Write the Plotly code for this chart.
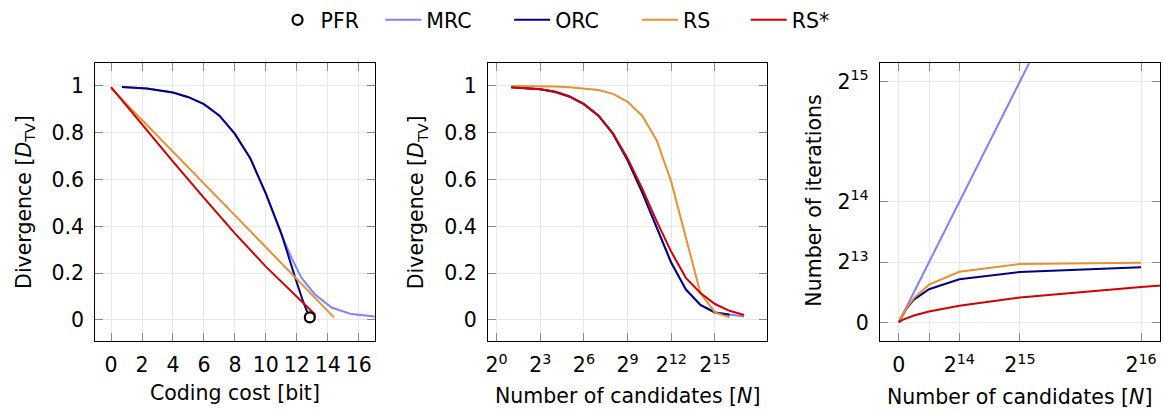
import plotly.graph_objects as go

# ---------------- data ----------------
# Plot 1: divergence vs coding cost [bit]
mrc_cost = [0.7, 2.3, 4.0, 5.0, 6.0, 7.0, 8.0, 9.0, 10.0, 11.01, 11.66, 12.3, 13.16, 14.24, 15.53, 17.1]
mrc_div1 = [0.996, 0.989, 0.972, 0.952, 0.922, 0.873, 0.795, 0.69, 0.54, 0.364, 0.265, 0.18, 0.11, 0.053, 0.025, 0.014]
orc_cost = [0.7, 2.3, 4.0, 5.0, 6.0, 7.0, 8.0, 9.0, 10.0, 11.0, 11.9, 12.4, 12.73]
orc_div1 = [0.996, 0.989, 0.972, 0.952, 0.922, 0.873, 0.795, 0.69, 0.54, 0.37, 0.18, 0.08, 0.025]
rs_cost = [0.0, 4.3, 8.43, 14.4]
rs_div1 = [0.99, 0.70, 0.418, 0.011]
rss_cost = [0.0, 2.0, 4.0, 6.0, 8.0, 10.0, 12.0, 13.2]
rss_div1 = [0.995, 0.835, 0.677, 0.522, 0.37, 0.228, 0.097, 0.022]
pfr_cost = [12.84]
pfr_div1 = [0.011]

# Plot 2 / 3: number of candidates N
n16 = [2, 4, 8, 16, 32, 64, 128, 256, 512, 1024, 2048, 4096, 8192, 16384, 32768, 65536]
n17 = [2, 4, 8, 16, 32, 64, 128, 256, 512, 1024, 2048, 4096, 8192, 16384, 32768, 65536, 131072]

mrc_div2 = [0.995, 0.992, 0.986, 0.975, 0.955, 0.922, 0.873, 0.795, 0.682, 0.545, 0.393, 0.244, 0.13, 0.064, 0.032, 0.022, 0.015]
orc_div2 = [0.995, 0.992, 0.986, 0.975, 0.955, 0.922, 0.873, 0.795, 0.682, 0.545, 0.393, 0.244, 0.13, 0.064, 0.032, 0.022]
rs_div2 = [1.0, 1.0, 0.999, 0.998, 0.995, 0.99, 0.983, 0.966, 0.932, 0.873, 0.767, 0.59, 0.35, 0.115, 0.032, 0.011]
rss_div2 = [0.995, 0.992, 0.986, 0.975, 0.955, 0.922, 0.873, 0.797, 0.69, 0.562, 0.421, 0.291, 0.18, 0.115, 0.068, 0.039, 0.021]

mrc_iter = [2, 4, 8, 16, 32, 64, 128, 256, 512, 1024, 2048, 4096, 8192, 16384, 32768, 65536, 131072]
orc_iter = [2, 4, 8, 16, 31, 62, 120, 235, 460, 900, 1850, 3100, 4510, 5860, 6845, 7480]
rs_iter = [2, 4, 8, 16, 32, 63, 125, 245, 480, 940, 1900, 3300, 5130, 6886, 7926, 8101]
rss_iter = [1.5, 3, 6, 11, 20, 36, 64, 115, 200, 340, 560, 930, 1485, 2255, 3376, 4820, 7100]

x1_ticks = [0, 2, 4, 6, 8, 10, 12, 14, 16]
div_ticks = [0, 0.2, 0.4, 0.6, 0.8, 1]
div_labels = ["0", "0.2", "0.4", "0.6", "0.8", "1"]
x2_ticks = [1, 8, 64, 512, 4096, 32768]
x2_labels = ["2<sup>0</sup>", "2<sup>3</sup>", "2<sup>6</sup>", "2<sup>9</sup>", "2<sup>12</sup>", "2<sup>15</sup>"]
x3_ticks = [0, 8192, 16384, 32768, 65536]
x3_labels = ["0", "", "2<sup>14</sup>", "2<sup>15</sup>", "2<sup>16</sup>"]
y3_ticks = [0, 8192, 16384, 32768]
y3_labels = ["0", "2<sup>13</sup>", "2<sup>14</sup>", "2<sup>15</sup>"]

# ---------------- style ----------------
W, H = 1164, 414
FONT = "DejaVu Sans"
FS = 20.5
C_MRC = "#8080ff"
C_ORC = "#000088"
C_RS = "#e8912f"
C_RSS = "#d40000"
LW = 2

fig = go.Figure()

def line(x, y, color, name, xa, ya, legend, show):
    fig.add_trace(go.Scatter(x=x, y=y, mode="lines", name=name,
                             line=dict(color=color, width=LW),
                             xaxis=xa, yaxis=ya, legend=legend, showlegend=show))

# plot 1
line(mrc_cost, mrc_div1, C_MRC, "MRC", "x", "y", "legend2", True)
line(orc_cost, orc_div1, C_ORC, "ORC", "x", "y", "legend3", True)
line(rs_cost, rs_div1, C_RS, "RS", "x", "y", "legend4", True)
line(rss_cost, rss_div1, C_RSS, "RS*", "x", "y", "legend5", True)
fig.add_trace(go.Scatter(x=pfr_cost, y=pfr_div1, mode="markers", name="PFR",
                         marker=dict(symbol="circle", size=10, color="white",
                                     line=dict(color="black", width=2.2)),
                         xaxis="x", yaxis="y", legend="legend", showlegend=True))
# plot 2
line(n17, mrc_div2, C_MRC, "MRC", "x2", "y2", "legend2", False)
line(n16, orc_div2, C_ORC, "ORC", "x2", "y2", "legend3", False)
line(n16, rs_div2, C_RS, "RS", "x2", "y2", "legend4", False)
line(n17, rss_div2, C_RSS, "RS*", "x2", "y2", "legend5", False)
# plot 3
line(n17, mrc_iter, C_MRC, "MRC", "x3", "y3", "legend2", False)
line(n16, orc_iter, C_ORC, "ORC", "x3", "y3", "legend3", False)
line(n16, rs_iter, C_RS, "RS", "x3", "y3", "legend4", False)
line(n17, rss_iter, C_RSS, "RS*", "x3", "y3", "legend5", False)

def px_x(p):
    return p / W

def px_y(p):
    return 1 - p / H

ydom = [px_y(340), px_y(60.7)]
common = dict(showline=True, linecolor="black", linewidth=1, mirror="ticks",
              ticks="inside", ticklen=8, tickwidth=1, tickcolor="#888888",
              showgrid=True, gridcolor="#e8e8e8", gridwidth=1, zeroline=False,
              tickfont=dict(family=FONT, size=FS, color="black"))

fig.update_layout(
    width=W, height=H, margin=dict(l=0, r=0, t=0, b=0),
    paper_bgcolor="white", plot_bgcolor="white",
    font=dict(family=FONT, size=FS, color="black"),
    xaxis=dict(domain=[px_x(93.3), px_x(373.3)], range=[-1.03, 17.03],
               tickvals=x1_ticks, anchor="y", ticklabelstandoff=6, **common),
    yaxis=dict(domain=ydom, range=[-0.088, 1.097], tickvals=div_ticks, ticktext=div_labels,
               anchor="x", ticklabelstandoff=6, **common),
    xaxis2=dict(domain=[px_x(486.7), px_x(766.7)], type="log", range=[-0.6 * 0.30103, 18.6 * 0.30103],
                tickvals=x2_ticks, ticktext=x2_labels, anchor="y2", ticklabelstandoff=6, **common),
    yaxis2=dict(domain=ydom, range=[-0.088, 1.097], tickvals=div_ticks, ticktext=div_labels,
                anchor="x2", ticklabelstandoff=6, **common),
    xaxis3=dict(domain=[px_x(879.3), px_x(1160)], range=[-5130, 70666],
                tickvals=x3_ticks, ticktext=x3_labels, anchor="y3", ticklabelstandoff=6, **common),
    yaxis3=dict(domain=ydom, range=[-2471, 35239], tickvals=y3_ticks, ticktext=y3_labels,
                anchor="x3", ticklabelstandoff=6, **common),
)

# legends: one entry each, positioned like the reference
leg_common = dict(orientation="h", xanchor="left", yanchor="middle",
                  bgcolor="rgba(0,0,0,0)", borderwidth=0,
                  font=dict(family=FONT, size=FS, color="black"), itemwidth=36)
leg_pos = {"legend": 273, "legend2": 379, "legend3": 508, "legend4": 636, "legend5": 745}
for k, xp in leg_pos.items():
    fig.update_layout({k: dict(x=px_x(xp), y=px_y(17), **leg_common)})

# axis titles
def title(text, x, y, angle=0):
    fig.add_annotation(text=text, x=px_x(x), y=px_y(y), xref="paper", yref="paper",
                       showarrow=False, textangle=angle, xanchor="center", yanchor="middle",
                       font=dict(family=FONT, size=FS, color="black"))

title("Coding cost [bit]", 233.3, 393)
title("Number of candidates [<i>N</i>]", 626.7, 396)
title("Number of candidates [<i>N</i>]", 1019.7, 396.7)
title("Divergence [<i>D</i><sub>TV</sub>]", 23, 200.4, -90)
title("Divergence [<i>D</i><sub>TV</sub>]", 416, 200.4, -90)
title("Number of iterations", 812.5, 199, -90)

fig.write_html("out.html")
